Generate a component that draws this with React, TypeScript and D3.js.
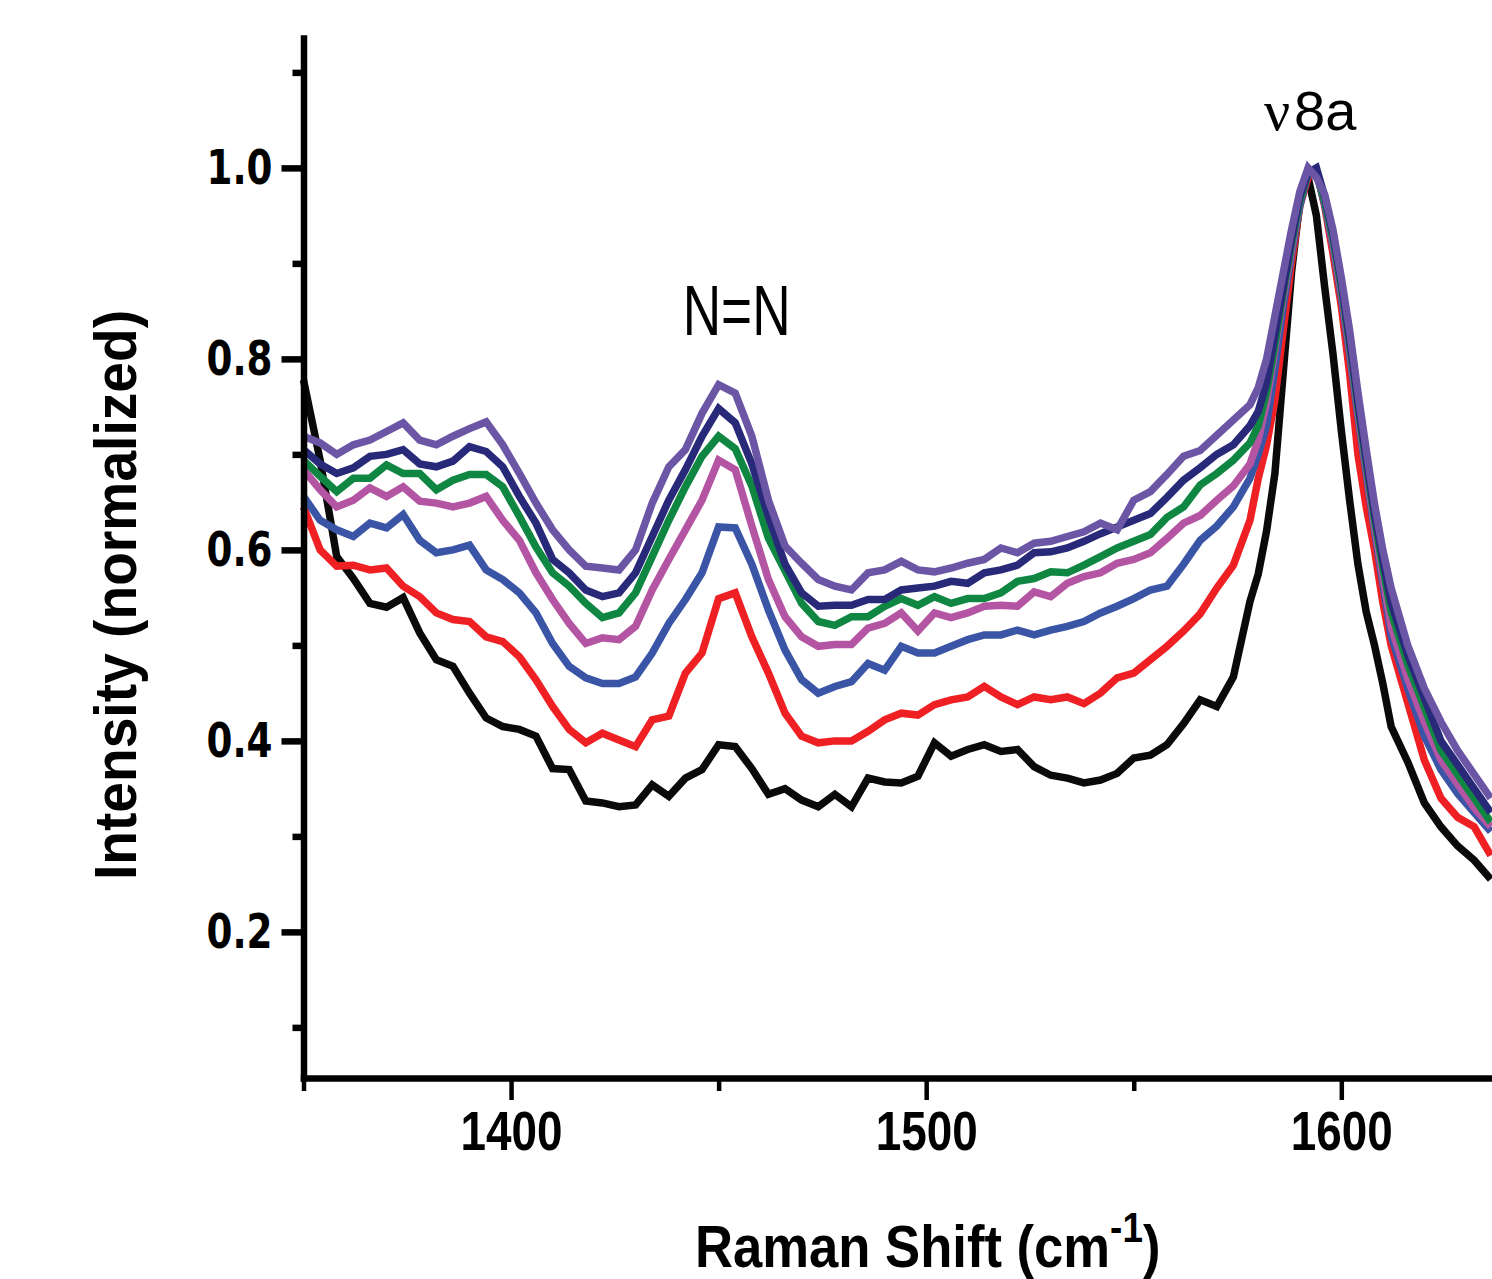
import React, { useEffect, useRef } from 'react';
import * as d3 from 'd3';

// Raman shift grid (cm-1), shared by every spectrum
const shifts = [
  1350, 1354, 1358, 1362, 1366, 1370, 1374, 1378, 1382, 1386, 1390, 1394, 1398, 1402, 1406, 1410, 1414, 1418, 1422, 1426, 1430, 1434, 1438, 1442, 1446, 1450, 1454, 1458, 1462,
  1466, 1470, 1474, 1478, 1482, 1486, 1490, 1494, 1498, 1502, 1506, 1510, 1514, 1518, 1522, 1526, 1530, 1534, 1538, 1542, 1546, 1550, 1554, 1558, 1562, 1566, 1570, 1574, 1578,
  1580, 1582, 1584, 1586, 1588, 1590, 1592, 1594, 1596, 1598, 1600, 1602, 1604, 1606, 1608, 1610, 1612,
  1616, 1620, 1624, 1628, 1632, 1636,
];

const blackSpec = [
  0.778, 0.694, 0.593, 0.57, 0.544, 0.54, 0.55, 0.513, 0.485, 0.478, 0.45, 0.424, 0.415, 0.412, 0.405, 0.371, 0.37, 0.337, 0.335, 0.331, 0.333, 0.354, 0.342, 0.361, 0.37, 0.396, 0.394, 0.371, 0.344,
  0.35, 0.338, 0.331, 0.344, 0.331, 0.361, 0.357, 0.356, 0.363, 0.398, 0.384, 0.391, 0.396, 0.389, 0.391, 0.373, 0.364, 0.361, 0.356, 0.359, 0.366, 0.382, 0.385, 0.396, 0.418, 0.443, 0.436, 0.467, 0.546,
  0.575, 0.62, 0.68, 0.785, 0.89, 0.965, 0.99, 0.95, 0.875, 0.805, 0.725, 0.652, 0.585, 0.535, 0.5, 0.46, 0.415,
  0.378, 0.335, 0.31, 0.29, 0.275, 0.255,
];

const redSpec = [
  0.645, 0.6, 0.583, 0.584, 0.579, 0.581, 0.562, 0.551, 0.534, 0.527, 0.525, 0.509, 0.504, 0.488, 0.464, 0.436, 0.412, 0.398, 0.408, 0.401, 0.394, 0.422, 0.426, 0.471, 0.492, 0.549, 0.555, 0.509, 0.471,
  0.429, 0.405, 0.398, 0.4, 0.4, 0.41, 0.422, 0.429, 0.427, 0.438, 0.443, 0.446, 0.457, 0.446, 0.438, 0.446, 0.443, 0.446, 0.439, 0.45, 0.466, 0.471, 0.485, 0.499, 0.515, 0.533, 0.56, 0.584, 0.631,
  0.675, 0.71, 0.757, 0.83, 0.9, 0.96, 0.99, 0.998, 0.96, 0.91, 0.855, 0.785, 0.7, 0.645, 0.6, 0.545, 0.5,
  0.44, 0.38, 0.34, 0.32, 0.31, 0.28,
];

const blueSpec = [
  0.656, 0.631, 0.621, 0.614, 0.628, 0.623, 0.637, 0.61, 0.597, 0.6, 0.605, 0.579, 0.569, 0.555, 0.534, 0.502, 0.478, 0.466, 0.46, 0.46, 0.467, 0.492, 0.523, 0.548, 0.576, 0.624, 0.623, 0.585, 0.537,
  0.495, 0.464, 0.45, 0.457, 0.462, 0.481, 0.474, 0.499, 0.492, 0.492, 0.499, 0.506, 0.511, 0.511, 0.516, 0.511, 0.516, 0.52, 0.525, 0.534, 0.541, 0.549, 0.558, 0.562, 0.585, 0.61, 0.625, 0.645, 0.675,
  0.7, 0.73, 0.79, 0.855, 0.91, 0.96, 0.995, 0.995, 0.962, 0.918, 0.865, 0.805, 0.74, 0.68, 0.62, 0.565, 0.51,
  0.455, 0.405, 0.37, 0.345, 0.325, 0.305,
];

const magentaSpec = [
  0.684, 0.663, 0.645, 0.652, 0.665, 0.656, 0.666, 0.651, 0.649, 0.645, 0.649, 0.656, 0.631, 0.61, 0.576, 0.548, 0.523, 0.502, 0.508, 0.506, 0.52, 0.558, 0.59, 0.621, 0.652, 0.694, 0.684, 0.625, 0.569,
  0.53, 0.509, 0.499, 0.501, 0.501, 0.518, 0.523, 0.534, 0.515, 0.534, 0.529, 0.534, 0.541, 0.542, 0.541, 0.556, 0.551, 0.565, 0.572, 0.576, 0.586, 0.59, 0.597, 0.612, 0.628, 0.636, 0.652, 0.667, 0.69,
  0.715, 0.755, 0.81, 0.865, 0.915, 0.965, 0.995, 0.995, 0.965, 0.92, 0.87, 0.81, 0.745, 0.685, 0.625, 0.572, 0.52,
  0.465, 0.42, 0.38, 0.355, 0.33, 0.31,
];

const greenSpec = [
  0.694, 0.677, 0.661, 0.675, 0.675, 0.689, 0.68, 0.68, 0.663, 0.673, 0.679, 0.679, 0.666, 0.635, 0.603, 0.576, 0.562, 0.544, 0.529, 0.534, 0.555, 0.593, 0.631, 0.666, 0.698, 0.719, 0.706, 0.667, 0.612,
  0.578, 0.544, 0.525, 0.521, 0.53, 0.53, 0.541, 0.549, 0.542, 0.551, 0.544, 0.549, 0.549, 0.555, 0.567, 0.57, 0.577, 0.576, 0.584, 0.593, 0.602, 0.609, 0.616, 0.634, 0.645, 0.668, 0.68, 0.694, 0.712,
  0.73, 0.765, 0.815, 0.87, 0.92, 0.965, 0.995, 0.995, 0.965, 0.925, 0.875, 0.815, 0.75, 0.69, 0.632, 0.582, 0.535,
  0.48, 0.435, 0.39, 0.365, 0.34, 0.315,
];

const navySpec = [
  0.705, 0.69, 0.68, 0.686, 0.698, 0.7, 0.705, 0.69, 0.687, 0.693, 0.708, 0.703, 0.687, 0.656, 0.628, 0.59, 0.576, 0.558, 0.551, 0.555, 0.576, 0.614, 0.652, 0.684, 0.719, 0.748, 0.733, 0.69, 0.635,
  0.585, 0.555, 0.541, 0.542, 0.542, 0.548, 0.548, 0.558, 0.56, 0.562, 0.567, 0.565, 0.576, 0.579, 0.584, 0.597, 0.598, 0.602, 0.609, 0.617, 0.624, 0.631, 0.638, 0.655, 0.673, 0.686, 0.7, 0.71, 0.73,
  0.745, 0.775, 0.825, 0.875, 0.925, 0.97, 0.995, 1.0, 0.97, 0.93, 0.88, 0.82, 0.755, 0.695, 0.638, 0.59, 0.545,
  0.49, 0.445, 0.4, 0.375, 0.35, 0.325,
];

const purpleSpec = [
  0.719, 0.712, 0.7, 0.71, 0.715, 0.724, 0.733, 0.715, 0.71, 0.719, 0.727, 0.734, 0.71, 0.68, 0.649, 0.621, 0.6, 0.583, 0.581, 0.579, 0.6, 0.649, 0.687, 0.705, 0.743, 0.773, 0.764, 0.719, 0.652,
  0.604, 0.586, 0.569, 0.562, 0.558, 0.576, 0.579, 0.588, 0.579, 0.577, 0.581, 0.586, 0.59, 0.602, 0.597, 0.607, 0.609, 0.614, 0.619, 0.628, 0.621, 0.652, 0.661, 0.679, 0.698, 0.704, 0.72, 0.736, 0.752,
  0.77, 0.8, 0.845, 0.89, 0.935, 0.975, 1.0, 0.99, 0.972, 0.935, 0.885, 0.83, 0.765, 0.705, 0.648, 0.6, 0.56,
  0.5, 0.455, 0.42, 0.39, 0.365, 0.34,
];

// drawn bottom to top
const series = [
  { name: 'black', color: '#0a0a0a', values: blackSpec },
  { name: 'red', color: '#ee2024', values: redSpec },
  { name: 'blue', color: '#3a55a5', values: blueSpec },
  { name: 'magenta', color: '#b455a3', values: magentaSpec },
  { name: 'green', color: '#0f8742', values: greenSpec },
  { name: 'navy', color: '#29297a', values: navySpec },
  { name: 'purple', color: '#6b55a5', values: purpleSpec },
];

const yMajor = [0.2, 0.4, 0.6, 0.8, 1.0];
const yMinor = [0.1, 0.3, 0.5, 0.7, 0.9, 1.1];
const xMajor = [1400, 1500, 1600];
const xMinor = [1350, 1450, 1550];

const sans = 'Liberation Sans, Arial, sans-serif';

export default function App() {
  const ref = useRef<SVGSVGElement>(null);

  useEffect(() => {
    const svg = d3.select(ref.current);
    svg.selectAll('*').remove();

    const x = d3.scaleLinear().domain([1350, 1636.3]).range([303.5, 1492]);
    const y = d3.scaleLinear().domain([0.047, 1.136]).range([1078, 38]);

    const line = d3
      .line<number>()
      .x((d, i) => x(shifts[i]))
      .y((d) => y(d));

    svg
      .append('g')
      .selectAll('path')
      .data(series)
      .join('path')
      .attr('d', (d) => line(d.values))
      .attr('fill', 'none')
      .attr('stroke', (d) => d.color)
      .attr('stroke-width', 7.5)
      .attr('stroke-linejoin', 'miter')
      .attr('stroke-miterlimit', 10);

    // y axis
    const gyMinor = svg
      .append('g')
      .attr('transform', `translate(${x(1350)},0)`)
      .call(d3.axisLeft(y).tickValues(yMinor).tickSize(11).tickSizeOuter(0).tickFormat(() => ''));
    gyMinor.select('.domain').remove();
    gyMinor.selectAll('line').attr('stroke', '#000').attr('stroke-width', 6.5);

    const gy = svg
      .append('g')
      .attr('transform', `translate(${x(1350)},0)`)
      .call(
        d3
          .axisLeft(y)
          .tickValues(yMajor)
          .tickSize(22)
          .tickSizeOuter(0)
          .tickPadding(9)
          .tickFormat(d3.format('.1f'))
      );
    gy.select('.domain').attr('stroke', '#000').attr('stroke-width', 6.5).attr('stroke-linecap', 'square');
    gy.selectAll('line').attr('stroke', '#000').attr('stroke-width', 6.5);
    gy.selectAll('text')
      .attr('fill', '#000')
      .attr('font-family', 'DejaVu Sans, Verdana, sans-serif')
      .attr('font-weight', 'bold')
      .attr('font-size', 48)
      .attr('textLength', 66)
      .attr('lengthAdjust', 'spacingAndGlyphs');

    // x axis
    const gxMinor = svg
      .append('g')
      .attr('transform', `translate(0,${y(0.047)})`)
      .call(d3.axisBottom(x).tickValues(xMinor).tickSize(13).tickSizeOuter(0).tickFormat(() => ''));
    gxMinor.select('.domain').remove();
    gxMinor.selectAll('line').attr('stroke', '#000').attr('stroke-width', 4.5);

    const gx = svg
      .append('g')
      .attr('transform', `translate(0,${y(0.047)})`)
      .call(d3.axisBottom(x).tickValues(xMajor).tickSize(22).tickSizeOuter(0).tickPadding(10).tickFormat(d3.format('d')));
    gx.select('.domain').attr('stroke', '#000').attr('stroke-width', 6.5).attr('stroke-linecap', 'square');
    gx.selectAll('line').attr('stroke', '#000').attr('stroke-width', 4.5);
    gx.selectAll('text')
      .attr('fill', '#000')
      .attr('font-family', sans)
      .attr('font-weight', 'bold')
      .attr('font-size', 56)
      .attr('textLength', 102)
      .attr('lengthAdjust', 'spacingAndGlyphs');

    // x title, squeezed horizontally like the original
    const xt = svg
      .append('text')
      .attr('transform', 'translate(695,1267) scale(0.877,1)')
      .attr('font-family', sans)
      .attr('font-weight', 'bold')
      .attr('font-size', 60);
    xt.append('tspan').text('Raman Shift (cm');
    xt.append('tspan').attr('font-size', 42).attr('dy', -25).text('-1');
    xt.append('tspan').attr('dy', 25).text(')');

    // y title
    svg
      .append('text')
      .attr('transform', 'translate(136,595) rotate(-90) scale(0.92,1)')
      .attr('text-anchor', 'middle')
      .attr('font-family', sans)
      .attr('font-weight', 'bold')
      .attr('font-size', 60)
      .text('Intensity (normalized)');

    // band labels
    svg
      .append('text')
      .attr('transform', `translate(${x(1450) + 18},335) scale(0.76,1)`)
      .attr('text-anchor', 'middle')
      .attr('font-family', sans)
      .attr('font-size', 70)
      .text('N=N');

    svg
      .append('text')
      .attr('x', 1264)
      .attr('y', 130)
      .attr('font-family', 'Liberation Serif, Times New Roman, serif')
      .attr('font-size', 58)
      .text('ν');
    svg
      .append('text')
      .attr('x', 1294)
      .attr('y', 130)
      .attr('font-family', sans)
      .attr('font-size', 56)
      .text('8a');
  }, []);

  return (
    <svg
      ref={ref}
      width={1492}
      height={1279}
      style={{ position: 'absolute', left: 0, top: 0, background: '#fff' }}
    />
  );
}
